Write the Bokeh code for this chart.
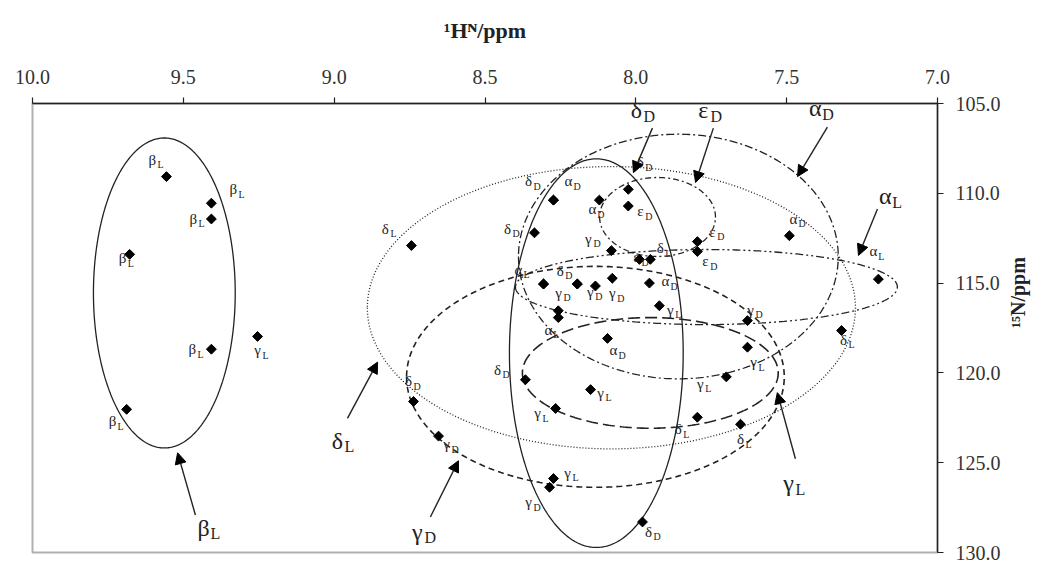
import numpy as np
from bokeh.plotting import figure
from bokeh.models import (Range1d, FixedTicker, NumeralTickFormatter, Arrow, NormalHead,
                          ColumnDataSource)
from bokeh.core.properties import value
from bokeh.embed import file_html
from bokeh.resources import INLINE

# ---------------- data ----------------
H_TICKS = [10.0, 9.5, 9.0, 8.5, 8.0, 7.5, 7.0]
N_TICKS = [105.0, 110.0, 115.0, 120.0, 125.0, 130.0]

# peaks: 1H (ppm), 15N (ppm), residue symbol, subscript
pt_h = [9.556, 9.407, 9.407, 9.678, 9.407, 9.254, 9.688,
        8.744, 8.273, 8.273, 8.121, 8.025, 8.025, 8.336, 8.081,
        7.988, 7.952, 7.796, 7.796, 7.491, 7.196, 7.318,
        8.306, 8.306, 8.194, 8.194, 8.134, 8.078, 7.955, 7.922,
        8.257, 8.257, 8.094, 7.630, 7.630, 7.700, 8.366, 8.150,
        8.737, 8.266, 7.796, 7.653, 8.654, 8.273, 8.286, 7.978]
pt_n = [109.07, 110.55, 111.43, 113.40, 118.68, 117.97, 122.03,
        112.91, 110.38, 110.38, 110.38, 109.78, 110.71, 112.20, 113.19,
        113.68, 113.68, 112.69, 113.24, 112.36, 114.78, 117.64,
        115.05, 115.05, 115.05, 115.05, 115.16, 114.73, 115.00, 116.26,
        116.54, 116.92, 118.08, 117.09, 118.57, 120.22, 120.38, 120.93,
        121.59, 121.98, 122.47, 122.86, 123.52, 125.88, 126.37, 128.30]
pt_sym = ["β", "β", "β", "β", "β", "γ", "β",
          "δ", "δ", "α", "α", "δ", "ε", "δ", "γ",
          "ε", "δ", "ε", "ε", "α", "α", "δ",
          "α", "γ", "δ", "γ", "", "γ", "α", "γ",
          "", "α", "α", "γ", "γ", "γ", "δ", "γ",
          "δ", "γ", "δ", "δ", "γ", "γ", "γ", "δ"]
pt_sub = ["L", "L", "L", "L", "L", "L", "L",
          "L", "D", "D", "D", "D", "D", "D", "D",
          "D", "L", "D", "D", "D", "L", "L",
          "L", "D", "D", "D", "", "D", "D", "L",
          "", "L", "D", "D", "L", "L", "D", "L",
          "D", "L", "L", "L", "D", "L", "D", "D"]

# conformational regions (ellipses): centre and semi-axes in ppm
ell_name = ["beta_L", "core", "delta_L", "gamma_D", "gamma_L", "alpha_D", "alpha_L", "eps_D"]
ell_cx = [9.563, 8.131, 8.081, 8.134, 7.952, 7.859, 7.766, 7.928]
ell_cy = [115.55, 118.90, 116.37, 120.22, 120.00, 113.52, 115.22, 111.32]
ell_rx = [0.235, 0.288, 0.809, 0.626, 0.424, 0.530, 0.633, 0.192]
ell_ry = [8.63, 10.82, 7.86, 6.15, 3.08, 6.81, 2.09, 2.20]

# region names with arrows: label position, arrow tail, arrow tip
reg_sym = ["β", "δ", "γ", "γ", "δ", "ε", "α", "α"]
reg_sub = ["L", "L", "D", "L", "D", "D", "D", "L"]
reg_h = [9.433, 8.989, 8.724, 7.494, 7.998, 7.776, 7.405, 7.173]
reg_n = [128.63, 123.79, 128.85, 126.15, 105.38, 105.38, 105.27, 110.16]
arr_h0 = [9.460, 8.956, 8.681, 7.471, 7.945, 7.743, 7.365, 7.199]
arr_n0 = [127.91, 122.53, 128.02, 124.78, 106.37, 106.37, 106.32, 110.88]
arr_h1 = [9.519, 8.856, 8.588, 7.531, 8.008, 7.802, 7.464, 7.262]
arr_n1 = [124.45, 119.40, 124.89, 121.10, 108.85, 109.40, 109.07, 113.46]

# ---------------- styles ----------------
lbl_dx = [-14, 22, -18, -7, -19, 0, -14,
          -26, -25, 15, -7, 12, 12, -27, -23,
          -3, 10, 15, 8, 4, -5, 2,
          -25, 15, -17, 13, 0, 0, 16, 11,
          0, -10, 6, 3, 6, -26, -28, 10,
          -5, -18, -19, 0, 8, 14, -21, 6]
lbl_dy = [-17, -14, 0, 4, 0, 14, 12,
          -17, -19, -19, 9, -27, 5, -4, -12,
          -2, -11, -10, 10, -17, -28, 9,
          -14, 9, -13, 8, 0, 15, -2, 4,
          0, 12, 12, -11, 15, 7, -10, 3,
          -20, 5, 12, 15, 8, -6, 15, 10]
ell_style = {
    "beta_L": dict(line_dash="solid", line_width=1.3),
    "core": dict(line_dash="solid", line_width=1.3),
    "delta_L": dict(line_dash="1 2", line_width=1.3),
    "gamma_D": dict(line_dash="6 4", line_width=1.6),
    "gamma_L": dict(line_dash="12 5", line_width=1.6),
    "alpha_D": dict(line_dash="8 3 2 3", line_width=1.3),
    "alpha_L": dict(line_dash="8 3 2 3 2 3", line_width=1.3),
    "eps_D": dict(line_dash="6 3 2 3", line_width=1.3),
}
SERIF = value("Liberation Serif")
INK = "#222222"

p = figure(frame_width=905, frame_height=449,
           x_range=Range1d(10.0, 7.0), y_range=Range1d(130.0, 105.0),
           x_axis_location="above", y_axis_location="right",
           output_backend="svg", toolbar_location=None,
           min_border_left=32, min_border_top=103, min_border_bottom=13, min_border_right=109,
           background_fill_color="white", border_fill_color="white")
p.grid.visible = False
p.outline_line_color = "#b0b0b0"
p.outline_line_width = 2

for ax, ticks in ((p.xaxis[0], H_TICKS), (p.yaxis[0], N_TICKS)):
    ax.ticker = FixedTicker(ticks=ticks)
    ax.formatter = NumeralTickFormatter(format="0.0")
    ax.minor_tick_line_color = None
    ax.major_tick_in = 0
    ax.major_tick_out = 6
    ax.axis_line_color = INK
    ax.axis_line_width = 1.4
    ax.major_tick_line_color = INK
    ax.major_tick_line_width = 1.2
    ax.major_label_text_font = "Liberation Serif"
    ax.major_label_text_font_size = "20px"
    ax.major_label_text_color = "#333333"
    ax.axis_label_text_font = "Liberation Serif"
    ax.axis_label_text_font_style = "bold"
    ax.axis_label_text_color = INK

p.xaxis.axis_label = "¹Hᴺ/ppm"
p.xaxis.axis_label_text_font_size = "22px"
p.xaxis.major_label_standoff = 14
p.xaxis.axis_label_standoff = 24

yax = p.yaxis[0]
yax.axis_label = "¹⁵N/ppm"
yax.axis_label_text_font_size = "20px"
yax.major_label_standoff = 12
yax.axis_label_standoff = 14
if "axis_label_orientation" in yax.properties():
    yax.axis_label_orientation = np.pi / 2   # read bottom-to-top

# ellipses
t = np.linspace(0, 2 * np.pi, 361)
for name, cx, cy, rx, ry in zip(ell_name, ell_cx, ell_cy, ell_rx, ell_ry):
    p.line(cx + rx * np.cos(t), cy + ry * np.sin(t), line_color=INK, **ell_style[name])

# peaks
src = ColumnDataSource(dict(h=pt_h, n=pt_n, sym=pt_sym, sub=pt_sub, dx=lbl_dx, dy=lbl_dy,
                            sdx=[d + 5 for d in lbl_dx], sdy=[d + 5 for d in lbl_dy]))
p.scatter("h", "n", source=src, marker="square", angle=np.pi / 4, size=7,
          fill_color="black", line_color="black")
p.text("h", "n", text="sym", source=src, x_offset="dx", y_offset="dy",
       text_font=SERIF, text_font_size="15px", text_align="center", text_baseline="middle",
       text_color=INK)
p.text("h", "n", text="sub", source=src, x_offset="sdx", y_offset="sdy",
       text_font=SERIF, text_font_size="10px", text_align="left", text_baseline="middle",
       text_color=INK)

# region arrows
for h0, n0, h1, n1 in zip(arr_h0, arr_n0, arr_h1, arr_n1):
    p.add_layout(Arrow(end=NormalHead(size=11, fill_color="black", line_color="black", line_width=1),
                       x_start=h0, y_start=n0, x_end=h1, y_end=n1,
                       line_color=INK, line_width=1.4))
rsrc = ColumnDataSource(dict(h=reg_h, n=reg_n, sym=reg_sym, sub=reg_sub))
p.text("h", "n", text="sym", source=rsrc, text_font=SERIF, text_font_size="24px",
       text_align="center", text_baseline="middle", text_color=INK)
p.text("h", "n", text="sub", source=rsrc, x_offset=7, y_offset=6, text_font=SERIF,
       text_font_size="16px", text_align="left", text_baseline="middle", text_color=INK)

open("out.html", "w").write(file_html(p, INLINE))
